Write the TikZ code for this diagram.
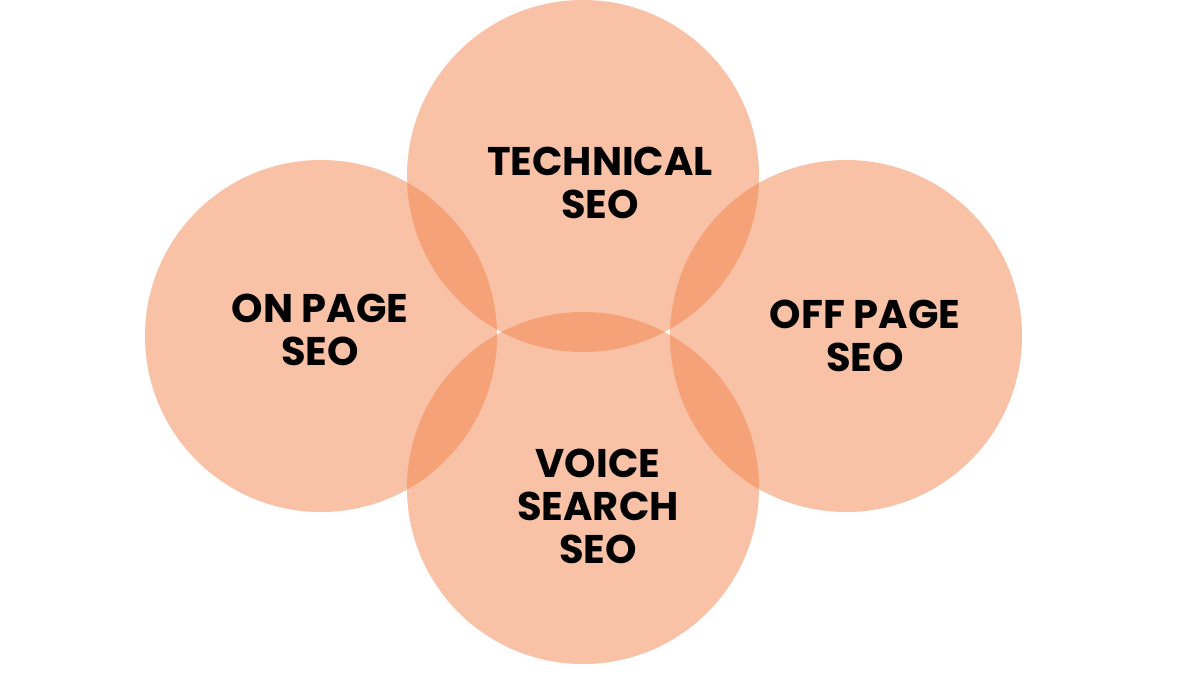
\documentclass[tikz,border=0pt]{standalone}
\usepackage{fontspec}
\setmainfont{Poppins}
\definecolor{seofill}{RGB}{245,133,77}
\tikzset{
  seocircle/.style={circle, fill=seofill, fill opacity=0.5, minimum size=176pt, inner sep=0pt},
  seolabel/.style={align=center, font=\bfseries\fontsize{20}{21.5}\selectfont, text=black}
}
\begin{document}
\begin{tikzpicture}[x=0.5pt,y=-0.5pt]
\useasboundingbox (0,0) rectangle (1200,675);
\fill[white] (0,0) rectangle (1200,675);
% circles
\node[seocircle] (tech) at (583,176) {};
\node[seocircle] (onpage) at (321,336) {};
\node[seocircle] (offpage) at (846,336) {};
\node[seocircle] (voice) at (583,488) {};
% labels
\node[seolabel] (techtext) at (600,183) {TECHNICAL\\SEO};
\node[seolabel] (ontext) at (320,330) {ON PAGE\\SEO};
\node[seolabel] (offtext) at (865,336) {OFF PAGE\\SEO};
\node[seolabel] (voicetext) at (598,506) {VOICE\\SEARCH\\SEO};
\end{tikzpicture}
\end{document}
